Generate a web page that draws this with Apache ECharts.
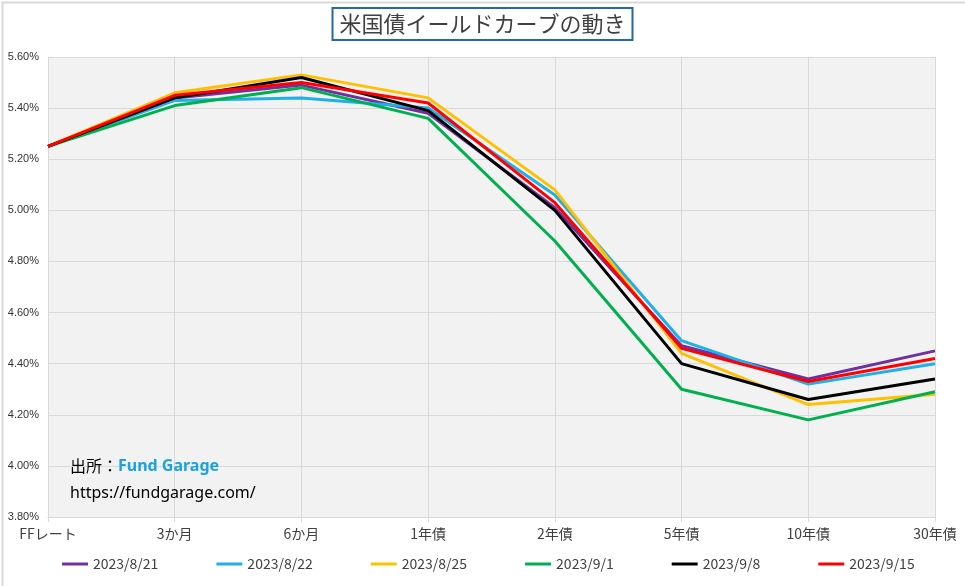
<!DOCTYPE html>
<html><head><meta charset="utf-8">
<script src="https://cdn.jsdelivr.net/npm/echarts@6/dist/echarts.min.js"></script>
<style>html,body{margin:0;padding:0;background:#fff}#c{width:965px;height:586px}</style>
</head><body><div id="c"></div>
<script>
const categories = ['FFレート','3か月','6か月','1年債','2年債','5年債','10年債','30年債'];
const s0821 = [5.25, 5.44, 5.49, 5.38, 5.01, 4.47, 4.34, 4.45];
const s0822 = [5.25, 5.43, 5.44, 5.40, 5.06, 4.49, 4.32, 4.40];
const s0825 = [5.25, 5.46, 5.53, 5.44, 5.08, 4.44, 4.24, 4.28];
const s0901 = [5.25, 5.41, 5.48, 5.36, 4.88, 4.30, 4.18, 4.29];
const s0908 = [5.25, 5.44, 5.52, 5.39, 5.00, 4.40, 4.26, 4.34];
const s0915 = [5.25, 5.45, 5.50, 5.42, 5.03, 4.46, 4.33, 4.42];
const seriesNames = ['2023/8/21','2023/8/22','2023/8/25','2023/9/1','2023/9/8','2023/9/15'];
const seriesColors = ['#7030a0','#1fb0ea','#ffc000','#00b050','#000000','#ff0000'];
const seriesData = [s0821, s0822, s0825, s0901, s0908, s0915];
const yTicks = [3.8, 4.0, 4.2, 4.4, 4.6, 4.8, 5.0, 5.2, 5.4, 5.6];

const chart = echarts.init(document.getElementById('c'));
chart.setOption({
  animation: false,
  backgroundColor: '#fff',
  title: {
    text: '米国債イールドカーブの動き', left: 'center', top: 8,
    padding: [5, 7, 5, 7], borderColor: '#2368a8', borderWidth: 2,
    textStyle: { fontFamily: 'Noto Sans CJK JP', fontSize: 22, fontWeight: 'normal', color: '#404040' }
  },
  grid: { left: 48, right: 30, top: 57, bottom: 69, show: true, backgroundColor: '#f2f2f2', borderWidth: 0 },
  legend: {
    bottom: 10, left: 57, itemWidth: 26, itemHeight: 3, itemGap: 58, icon: 'rect',
    textStyle: { fontFamily: 'Noto Sans CJK JP', fontSize: 14, color: '#404040' },
    data: seriesNames
  },
  xAxis: {
    type: 'category', data: categories, boundaryGap: false,
    axisLine: { lineStyle: { color: '#d9d9d9' } },
    axisTick: { show: true, length: 5, lineStyle: { color: '#d9d9d9' } },
    splitLine: { show: true, lineStyle: { color: '#d9d9d9', width: 1 } },
    axisLabel: { fontFamily: 'Noto Sans CJK JP', fontSize: 14, color: '#404040', margin: 10 }
  },
  yAxis: {
    type: 'value', min: yTicks[0], max: yTicks[yTicks.length - 1], interval: 0.2,
    axisLine: { show: false }, axisTick: { show: false },
    splitLine: { lineStyle: { color: '#d9d9d9', width: 1 } },
    axisLabel: { fontFamily: 'Liberation Sans', fontSize: 11, color: '#333333', margin: 9,
      formatter: v => v.toFixed(2) + '%' }
  },
  graphic: [
    { type: 'rect', left: 0, top: 0, shape: { width: 964, height: 585 }, style: { fill: 'none', stroke: '#d9d9d9', lineWidth: 2 }, silent: true, z: 100 },
    { type: 'text', left: 70, top: 458, z: 100, style: {
      text: '{a|出所：}{b|Fund Garage}',
      rich: { a: { fontFamily: 'Noto Sans CJK JP', fontSize: 16, fill: '#000' },
              b: { fontFamily: 'Noto Sans', fontSize: 16, fontWeight: 'bold', fill: '#1aa3e0' } } } },
    { type: 'text', left: 70, top: 485, z: 100, style: {
      text: 'https://fundgarage.com/', fontFamily: 'Noto Sans', fontSize: 16, fill: '#000' } }
  ],
  series: seriesData.map((d, i) => ({
    name: seriesNames[i], type: 'line', data: d, showSymbol: false, symbol: 'none',
    lineStyle: { width: 3, color: seriesColors[i] }, itemStyle: { color: seriesColors[i] }
  }))
});
</script></body></html>
